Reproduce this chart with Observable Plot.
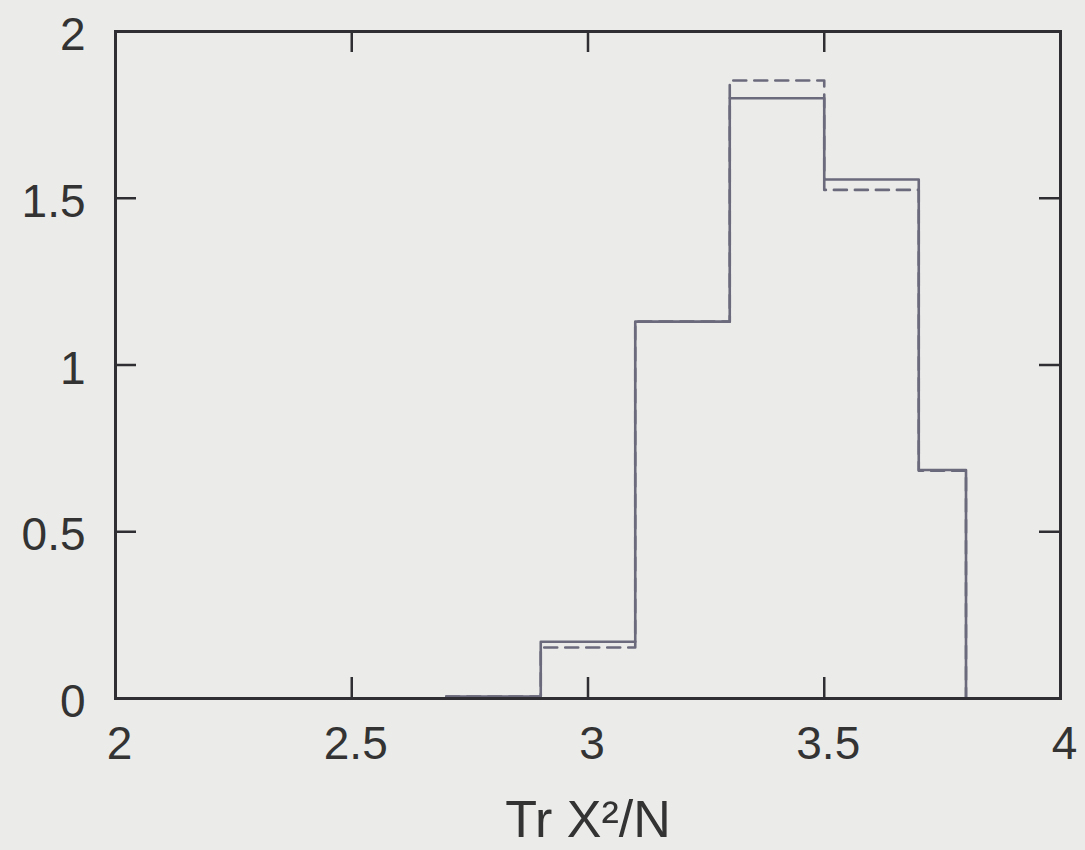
<!DOCTYPE html>
<html>
<head>
<meta charset="utf-8">
<script src="https://cdn.jsdelivr.net/npm/d3@7"></script>
<script src="https://cdn.jsdelivr.net/npm/@observablehq/plot@0.6"></script>
<style>
  html, body { margin: 0; padding: 0; background: #ebebe9; }
  #chart { width: 1085px; height: 850px; }
</style>
</head>
<body>
<div id="chart"></div>
<script>
// Histogram bin edges (left edges, last one is the right end)
const binEdges = [2.7, 2.9, 3.1, 3.3, 3.5, 3.7, 3.8];
// Solid histogram heights per bin (last value closes the step to zero)
const solidValues = [0.006, 0.17, 1.13, 1.80, 1.556, 0.685, 0];
// Dashed histogram heights per bin
const dashedValues = [0.006, 0.153, 1.13, 1.853, 1.525, 0.683, 0];
const xTicks = [2, 2.5, 3, 3.5, 4];
const yTicks = [0, 0.5, 1, 1.5, 2];
const xLabel = "Tr X²/N";

const solid = binEdges.map((x, i) => ({x, y: solidValues[i]}));
const dashed = binEdges.map((x, i) => ({x, y: dashedValues[i]}));

const W = 1085, H = 850;
const mL = 115, mR = 25, mT = 31, mB = 152;
const fw = W - mL - mR, fh = H - mT - mB;
const tick = 21;
const lineColor = "#6a6a7c";
const frameColor = "#2e2e33";
const fmt = d3.format("~g");

const chart = Plot.plot({
  width: W,
  height: H,
  marginLeft: mL,
  marginRight: mR,
  marginTop: mT,
  marginBottom: mB,
  style: {background: "#ebebe9", fontFamily: "'Liberation Sans', Arial, sans-serif", fontSize: "46px", color: "#333"},
  x: {domain: [2, 4]},
  y: {domain: [0, 2]},
  marks: [
    Plot.line(dashed, {x: "x", y: "y", curve: "step-after", stroke: lineColor, strokeWidth: 2.6, strokeDasharray: "13,8"}),
    Plot.line(solid, {x: "x", y: "y", curve: "step-after", stroke: lineColor, strokeWidth: 2.6}),
    // inward ticks
    Plot.tickY(yTicks, {y: d => d, insetRight: fw - tick, stroke: frameColor, strokeWidth: 2.5}),
    Plot.tickY(yTicks, {y: d => d, insetLeft: fw - tick, stroke: frameColor, strokeWidth: 2.5}),
    Plot.tickX(xTicks, {x: d => d, insetTop: fh - tick, stroke: frameColor, strokeWidth: 2.5}),
    Plot.tickX(xTicks, {x: d => d, insetBottom: fh - tick, stroke: frameColor, strokeWidth: 2.5}),
    Plot.axisY(yTicks, {tickSize: 0, tickPadding: 30, tickFormat: fmt, label: null, fill: "#333", fontSize: 46, dy: 4}),
    Plot.axisX(xTicks, {tickSize: 0, tickPadding: 28, tickFormat: fmt, label: null, fill: "#333", fontSize: 46, dx: 4}),
    Plot.axisX([], {tickSize: 0, label: xLabel, labelAnchor: "center", labelOffset: 138, labelArrow: "none", fill: "#333", fontSize: 52}),
    Plot.frame({stroke: frameColor, strokeWidth: 3})
  ]
});
document.getElementById("chart").appendChild(chart);
</script>
</body>
</html>
